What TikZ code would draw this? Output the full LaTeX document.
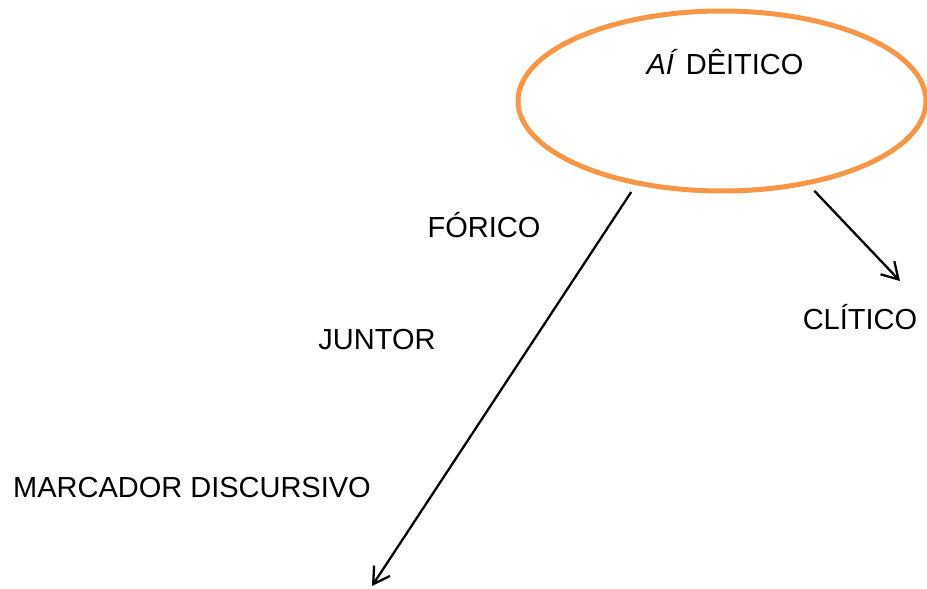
\documentclass[tikz,border=0pt]{standalone}
\usepackage{fontspec}
\setmainfont{Liberation Sans}
\usepackage{xcolor}
\usetikzlibrary{shapes.geometric, arrows.meta}
\definecolor{deiticoorange}{HTML}{F79646}

\begin{document}
\begin{tikzpicture}[
        x=1pt, y=-1pt,
        every node/.style={font=\fontsize{29}{34}\selectfont, inner sep=0pt},
        word/.style={anchor=base},
        ring/.style={ellipse, draw=deiticoorange, line width=5pt,
            minimum width=408pt, minimum height=180pt, outer sep=0pt},
        branch/.style={line width=2.3pt, -{Straight Barb[length=16pt, width=19pt]}}
    ]
        \useasboundingbox (0,0) rectangle (927,589);

        \node[ring] (deitico) at (722,101) {};
        \node[word] (ai) at (725,74) {\textit{AÍ} DÊITICO};

        \node[word] (forico) at (484,237) {FÓRICO};
        \node[word] (juntor) at (377,349) {JUNTOR};
        \node[word] (marcador) at (192,497) {MARCADOR DISCURSIVO};
        \node[word] (clitico) at (860,329) {CLÍTICO};

        \coordinate (fundo) at (372,586);
        \coordinate (lado) at (900,281);

        \path[branch]
        (deitico.224) edge[shorten <=11pt] (fundo)
        (deitico.316) edge[shorten <=11pt] (lado);
\end{tikzpicture}
\end{document}
